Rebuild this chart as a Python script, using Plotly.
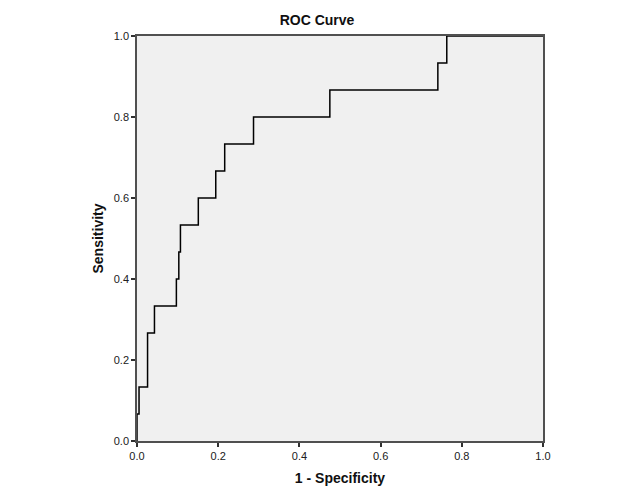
import plotly.graph_objects as go

# ROC step points (1 - specificity, sensitivity)
fpr = [0.0, 0.0, 0.005, 0.005, 0.026, 0.026, 0.043, 0.043, 0.097, 0.097, 0.103, 0.103,
       0.107, 0.107, 0.151, 0.151, 0.194, 0.194, 0.216, 0.216, 0.287, 0.287, 0.475, 0.475,
       0.741, 0.741, 0.763, 0.763, 1.0]
tpr = [0.0, 1/15, 1/15, 2/15, 2/15, 4/15, 4/15, 5/15, 5/15, 6/15, 6/15, 7/15,
       7/15, 8/15, 8/15, 9/15, 9/15, 10/15, 10/15, 11/15, 11/15, 12/15, 12/15, 13/15,
       13/15, 14/15, 14/15, 1.0, 1.0]
tick_vals = [0.0, 0.2, 0.4, 0.6, 0.8, 1.0]
tick_text = ["0.0", "0.2", "0.4", "0.6", "0.8", "1.0"]

fig = go.Figure()
fig.add_trace(go.Scatter(x=fpr, y=tpr, mode="lines",
                         line=dict(color="black", width=1.5, shape="linear"),
                         hoverinfo="skip", showlegend=False))

font_family = "Liberation Sans, Arial, sans-serif"
axis_common = dict(range=[0, 1], tickvals=tick_vals, ticktext=tick_text,
                   ticks="outside", ticklen=4, tickwidth=1.5, tickcolor="#303030",
                   showline=True, linecolor="#505050", linewidth=1.5, mirror=True,
                   showgrid=False, zeroline=False, fixedrange=True,
                   tickfont=dict(family=font_family, size=11, color="#202020"))

fig.update_layout(
    width=618, height=493,
    margin=dict(l=129, r=83, t=28, b=60),
    paper_bgcolor="white", plot_bgcolor="#F0F0F0",
    title=dict(text="<b>ROC Curve</b>", x=0.5, xanchor="center",
               font=dict(family=font_family, size=14, color="#101010")),
    xaxis=dict(axis_common, title=dict(text="<b>1 - Specificity</b>", standoff=12,
                                       font=dict(family=font_family, size=14, color="#101010"))),
    yaxis=dict(axis_common, title=dict(text="<b>Sensitivity</b>", standoff=7,
                                       font=dict(family=font_family, size=14, color="#101010"))),
)
fig.update_layout(title=dict(y=0.975, yref="container", yanchor="middle"))

fig.write_html("out.html")
